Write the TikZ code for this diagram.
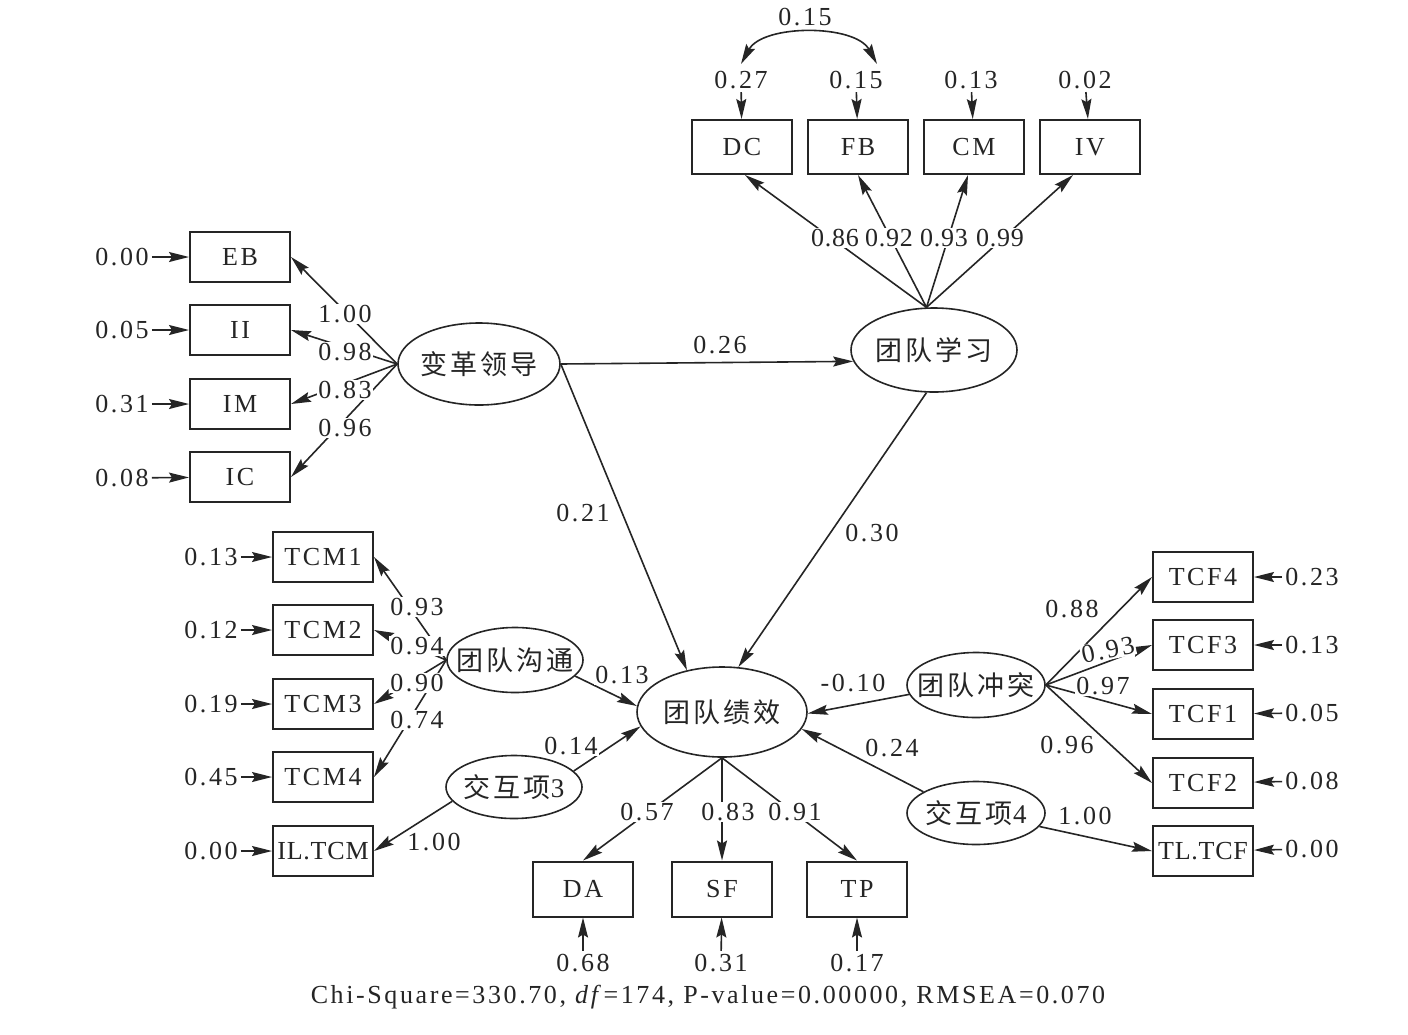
\documentclass[tikz,border=0pt]{standalone}
\usepackage{fontspec}
\setmainfont{Liberation Serif}[LetterSpace=10]
\newfontfamily\cjk{Noto Sans CJK SC}[LetterSpace=12]
\usetikzlibrary{arrows.meta,shapes.geometric,calc}
\definecolor{ink}{HTML}{252525}
\newcommand\zh[1]{\makebox[40pt]{\cjk\fontsize{27}{30}\selectfont #1}}
\newcommand\tight{\addfontfeature{LetterSpace=3}}
\begin{document}
\begin{tikzpicture}[x=1pt,y=-1pt,
  font=\fontsize{26}{30}\selectfont,
  every node/.style={text=ink},
  obs/.style={draw=ink, rectangle, line width=2pt, minimum width=100pt, minimum height=50pt, inner sep=0pt},
  lat/.style={draw=ink, ellipse, line width=1.6pt, inner sep=0pt},
  tip/.tip={Stealth[length=20pt,width=10pt,inset=3pt]},
  arr/.style={draw=ink, line width=1.6pt, -tip},
  darr/.style={draw=ink, line width=1.6pt, tip-tip},
  err/.style={inner sep=3pt},
  lbl/.style={fill=white, inner sep=1pt}]
\fill[white] (0,0) rectangle (1408,1034);
\useasboundingbox (0,0) rectangle (1408,1034);

% ---- observed variables
\node[obs, minimum height=54pt] (DC) at (742,147) {DC};
\node[obs, minimum height=54pt] (FB) at (858,147) {FB};
\node[obs, minimum height=54pt] (CM) at (974,147) {CM};
\node[obs, minimum height=54pt] (IV) at (1090,147) {IV};

\node[obs] (EB) at (240,257) {EB};
\node[obs] (II) at (240,330) {II};
\node[obs] (IM) at (240,404) {IM};
\node[obs] (IC) at (240,477) {IC};

\node[obs] (TCM1) at (323,557) {TCM1};
\node[obs] (TCM2) at (323,630) {TCM2};
\node[obs] (TCM3) at (323,704) {TCM3};
\node[obs] (TCM4) at (323,777) {TCM4};
\node[obs] (ILTCM) at (323,851) {\kern-3pt{\tight IL.TCM}\kern-3pt};

\node[obs] (TCF4) at (1203,577) {TCF4};
\node[obs] (TCF3) at (1203,645) {TCF3};
\node[obs] (TCF1) at (1203,714) {TCF1};
\node[obs] (TCF2) at (1203,783) {TCF2};
\node[obs] (TLTCF) at (1203,851) {\kern-3pt{\tight TL.TCF}\kern-3pt};

\node[obs, minimum height=55pt] (DA) at (583,889) {DA};
\node[obs, minimum height=55pt] (SF) at (722,889) {SF};
\node[obs, minimum height=55pt] (TP) at (857,889) {TP};

% ---- latent variables
\node[lat, minimum width=162pt, minimum height=82pt] (BG) at (479,364) {\zh{变革领导}};
\node[lat, minimum width=166pt, minimum height=84pt] (XX) at (934,350) {\zh{团队学习}};
\node[lat, minimum width=170pt, minimum height=90pt] (JX) at (722,712) {\zh{团队绩效}};
\node[lat, minimum width=136pt, minimum height=65pt] (GT) at (515,660) {\zh{团队沟通}};
\node[lat, minimum width=136pt, minimum height=63pt] (JH3) at (514,787) {\zh{交互项{\rmfamily 3}}};
\node[lat, minimum width=138pt, minimum height=65pt] (CT) at (976,685) {\zh{团队冲突}};
\node[lat, minimum width=138pt, minimum height=63pt] (JH4) at (976,813) {\zh{交互项{\rmfamily 4}}};

% ---- error terms
\node[err] (eDC) at (741,80) {0.27};
\node[err] (eFB) at (856,80) {0.15};
\node[err] (eCM) at (971,80) {0.13};
\node[err] (eIV) at (1085,80) {0.02};
\node[err] (eEB) at (122,257) {0.00};
\node[err] (eII) at (122,330) {0.05};
\node[err] (eIM) at (122,404) {0.31};
\node[err] (eIC) at (122,478) {0.08};
\node[err] (eTCM1) at (211,557) {0.13};
\node[err] (eTCM2) at (211,630) {0.12};
\node[err] (eTCM3) at (211,704) {0.19};
\node[err] (eTCM4) at (211,777) {0.45};
\node[err] (eILTCM) at (211,851) {0.00};
\node[err] (eTCF4) at (1312,577) {0.23};
\node[err] (eTCF3) at (1312,645) {0.13};
\node[err] (eTCF1) at (1312,713) {0.05};
\node[err] (eTCF2) at (1312,781) {0.08};
\node[err] (eTLTCF) at (1312,849) {0.00};
\node[err] (eDA) at (583,963) {0.68};
\node[err] (eSF) at (721,963) {0.31};
\node[err] (eTP) at (857,963) {0.17};

% ---- connectors
\foreach \e/\o in {eDC/DC,eFB/FB,eCM/CM,eIV/IV,eEB/EB,eII/II,eIM/IM,eIC/IC,
  eTCM1/TCM1,eTCM2/TCM2,eTCM3/TCM3,eTCM4/TCM4,eILTCM/ILTCM,
  eTCF4/TCF4,eTCF3/TCF3,eTCF1/TCF1,eTCF2/TCF2,eTLTCF/TLTCF,eDA/DA,eSF/SF,eTP/TP}
  \draw[arr] (\e) -- (\o);
\draw[darr] ([yshift=4pt]eDC.north) .. controls +(22,-40) and +(-22,-40) .. ([xshift=21pt,yshift=4pt]eFB.north);

\draw[arr] (XX.100) -- ([xshift=3pt]DC.south);
\draw[arr] (XX.100) -- (FB.south);
\draw[arr] (XX.100) -- ([xshift=-6pt]CM.south);
\draw[arr] (XX.100) -- ([xshift=-17pt]IV.south);

\foreach \o in {EB,II,IM,IC} \draw[arr] (BG.west) -- (\o.east);
\foreach \o in {TCM1,TCM2,TCM3,TCM4} \draw[arr] (GT.west) -- (\o.east);
\foreach \o in {TCF4,TCF3,TCF1,TCF2} \draw[arr] (CT.east) -- (\o.west);
\foreach \o in {DA,SF,TP} \draw[arr] (JX.south) -- (\o.north);

\draw[arr] (BG.east) -- (XX.188);
\draw[arr] (BG.east) -- (JX.130);
\draw[arr] (XX.260) -- (JX.70);
\draw[arr] (GT.-15) -- (JX.176);
\draw[arr] (JH3.15) -- (JX.190);
\draw[arr] (JH3.193) -- (ILTCM.east);
\draw[arr] (CT.188) -- (JX.-1);
\draw[arr] (JH4.158) -- (JX.-12);
\draw[arr] (JH4.-12) -- (TLTCF.west);

% ---- coefficient labels
\node[lbl] (cor) at (805,17) {0.15};
\node[lbl] (lDC) at (835,238) {\tight 0.86};
\node[lbl] (lFB) at (889,238) {\tight 0.92};
\node[lbl] (lCM) at (944,238) {\tight 0.93};
\node[lbl] (lIV) at (1000,238) {\tight 0.99};
\node[lbl] (lEB) at (345,314) {1.00};
\node[lbl] (lII) at (345,352) {0.98};
\node[lbl] (lIM) at (345,390) {0.83};
\node[lbl] (lIC) at (345,428) {0.96};
\node[lbl] (lTCM1) at (417,607) {0.93};
\node[lbl] (lTCM2) at (417,646) {0.94};
\node[lbl] (lTCM3) at (417,683) {0.90};
\node[lbl] (lTCM4) at (417,720) {0.74};
\node[lbl] (lILTCM) at (434,842) {1.00};
\node[lbl] (pBX) at (720,345) {0.26};
\node[lbl] (pBJ) at (583,513) {0.21};
\node[lbl] (pXJ) at (872,533) {0.30};
\node[lbl] (pGJ) at (622,675) {0.13};
\node[lbl] (pHJ) at (571,746) {0.14};
\node[lbl] (pCJ) at (853,683) {-0.10};
\node[lbl] (p4J) at (892,748) {0.24};
\node[lbl] (lTCF4) at (1072,609) {0.88};
\node[lbl, rotate=12] (lTCF3) at (1108,650) {0.93};
\node[lbl] (lTCF1) at (1103,686) {0.97};
\node[lbl] (lTCF2) at (1067,745) {0.96};
\node[lbl] (lTLTCF) at (1085,816) {1.00};
\node[lbl] (lDA) at (647,812) {0.57};
\node[lbl] (lSF) at (728,812) {0.83};
\node[lbl] (lTP) at (795,812) {0.91};

\node (fit) at (708,997) {Chi-Square=330.70, \textit{df}=174, P-value=0.00000, RMSEA=0.070};
\end{tikzpicture}
\end{document}
